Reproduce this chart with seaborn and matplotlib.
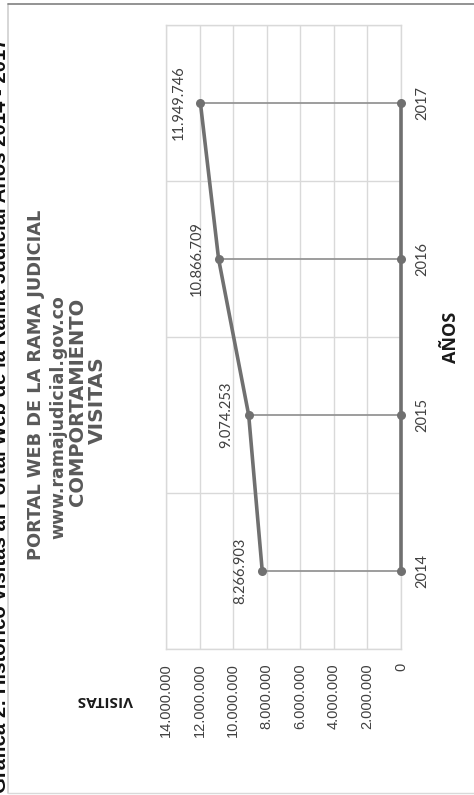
import numpy as np
import pandas as pd
import matplotlib
matplotlib.use("Agg")
import matplotlib.pyplot as plt
import seaborn as sns
from matplotlib.lines import Line2D

# Data
years = ["2014", "2015", "2016", "2017"]
visitas = [8266903, 9074253, 10866709, 11949746]
base = [0, 0, 0, 0]
value_ticks = [0, 2000000, 4000000, 6000000, 8000000, 10000000, 12000000, 14000000]

header = "Gráfica 2: Histórico visitas al Portal Web de la Rama Judicial Años 2014 - 2017"
title_lines = ["PORTAL WEB DE LA RAMA JUDICIAL", "www.ramajudicial.gov.co",
               "COMPORTAMIENTO", "VISITAS"]


def fmt(v):
    return f"{v:,.0f}".replace(",", ".")


sns.set_theme(style="white")
plt.rcParams["font.family"] = ["Liberation Sans", "DejaVu Sans"]

W, H = 474, 795
fig = plt.figure(figsize=(W / 100, H / 100), dpi=100)
fig.patch.set_facecolor("white")

# whole chart is turned a quarter turn: values run right-to-left, years bottom-to-top
ax = fig.add_axes([166 / W, 1 - 649 / H, (401 - 166) / W, (649 - 25) / H])

df = pd.DataFrame({"year": years, "pos": np.arange(len(years)),
                   "visitas": visitas, "base": base})

line_color = "#707070"

# drop lines
ax.hlines(df["pos"], df["base"], df["visitas"], color="#959595", lw=1.3, zorder=2)

sns.lineplot(x=df["visitas"], y=df["pos"], sort=False, estimator=None, ax=ax,
             color=line_color, lw=2.6, marker="o", markersize=6.5,
             markeredgewidth=0, zorder=3)
sns.lineplot(x=df["base"], y=df["pos"], sort=False, estimator=None, ax=ax,
             color=line_color, lw=2.6, marker="o", markersize=6.5,
             markeredgewidth=0, zorder=3, clip_on=False)

ax.set_xlim(14000000, 0)
ax.set_ylim(-0.5, len(years) - 0.5)

ax.set_xticks(value_ticks)
ax.set_xticklabels([fmt(v) for v in value_ticks])
ax.set_yticks(df["pos"])
ax.set_yticklabels(years)
ax.set_yticks(np.arange(-0.5, len(years), 1.0), minor=True)

ax.grid(axis="x", which="major", color="#d9d9d9", lw=1)
ax.grid(axis="y", which="minor", color="#d9d9d9", lw=1)
ax.set_axisbelow(True)
for sp in ax.spines.values():
    sp.set_color("#d9d9d9")
    sp.set_linewidth(1)

ax.yaxis.tick_right()
ax.tick_params(axis="both", which="both", length=0)
ax.tick_params(axis="x", pad=10, labelrotation=90, labelsize=10.5, labelcolor="#404040")
ax.tick_params(axis="y", pad=10, labelrotation=90, labelsize=10.5, labelcolor="#404040")
for lab in ax.get_xticklabels():
    lab.set_fontfamily("Liberation Sans")
for lab in ax.get_yticklabels():
    lab.set_fontfamily("Lato")
    lab.set_va("center")
    lab.set_ha("left")
ax.set_xlabel("")
ax.set_ylabel("")

# data labels
for v, p in zip(df["visitas"], df["pos"]):
    ax.annotate(fmt(v), (v, p), xytext=(-22, 0), textcoords="offset pixels",
                rotation=90, ha="center", va="center", fontsize=10.5,
                fontfamily="Lato", color="#404040")

# axis titles
fig.text(451 / W, 1 - 337 / H, "AÑOS", rotation=90, ha="center", va="center",
         fontsize=13, fontweight="bold", fontfamily="Open Sans", color="#1a1a1a")
fig.text(105 / W, 1 - 700 / H, "VISITAS", rotation=180, ha="center", va="center",
         fontsize=11, fontweight="bold", fontfamily="Open Sans", color="#1a1a1a")

# chart title
title_color = "#595959"
title_pos = [(36, 385), (58, 417), (77, 402), (97, 400)]
title_size = [12.8, 12.5, 14, 14.5]
for s, (x, y), fs in zip(title_lines, title_pos, title_size):
    fig.text(x / W, 1 - y / H, s, rotation=90, ha="center", va="center",
             fontsize=fs, fontweight="bold", fontfamily="DejaVu Sans", color=title_color)

# caption at the page edge
fig.text(10 / W, 2 / H, header, rotation=90, ha="right", va="bottom",
         fontsize=14.7, fontweight="bold", color="#111111")

# chart frame
fig.add_artist(Line2D([8 / W, 8 / W], [1 - 4 / H, 1 - 793 / H], color="#cfcfcf", lw=1.2))
fig.add_artist(Line2D([8 / W, 1], [1 - 793 / H, 1 - 793 / H], color="#d9d9d9", lw=1))
fig.add_artist(Line2D([8 / W, 1], [1 - 4 / H, 1 - 4 / H], color="#808080", lw=1.2))

fig.savefig("out.png", dpi=100)
